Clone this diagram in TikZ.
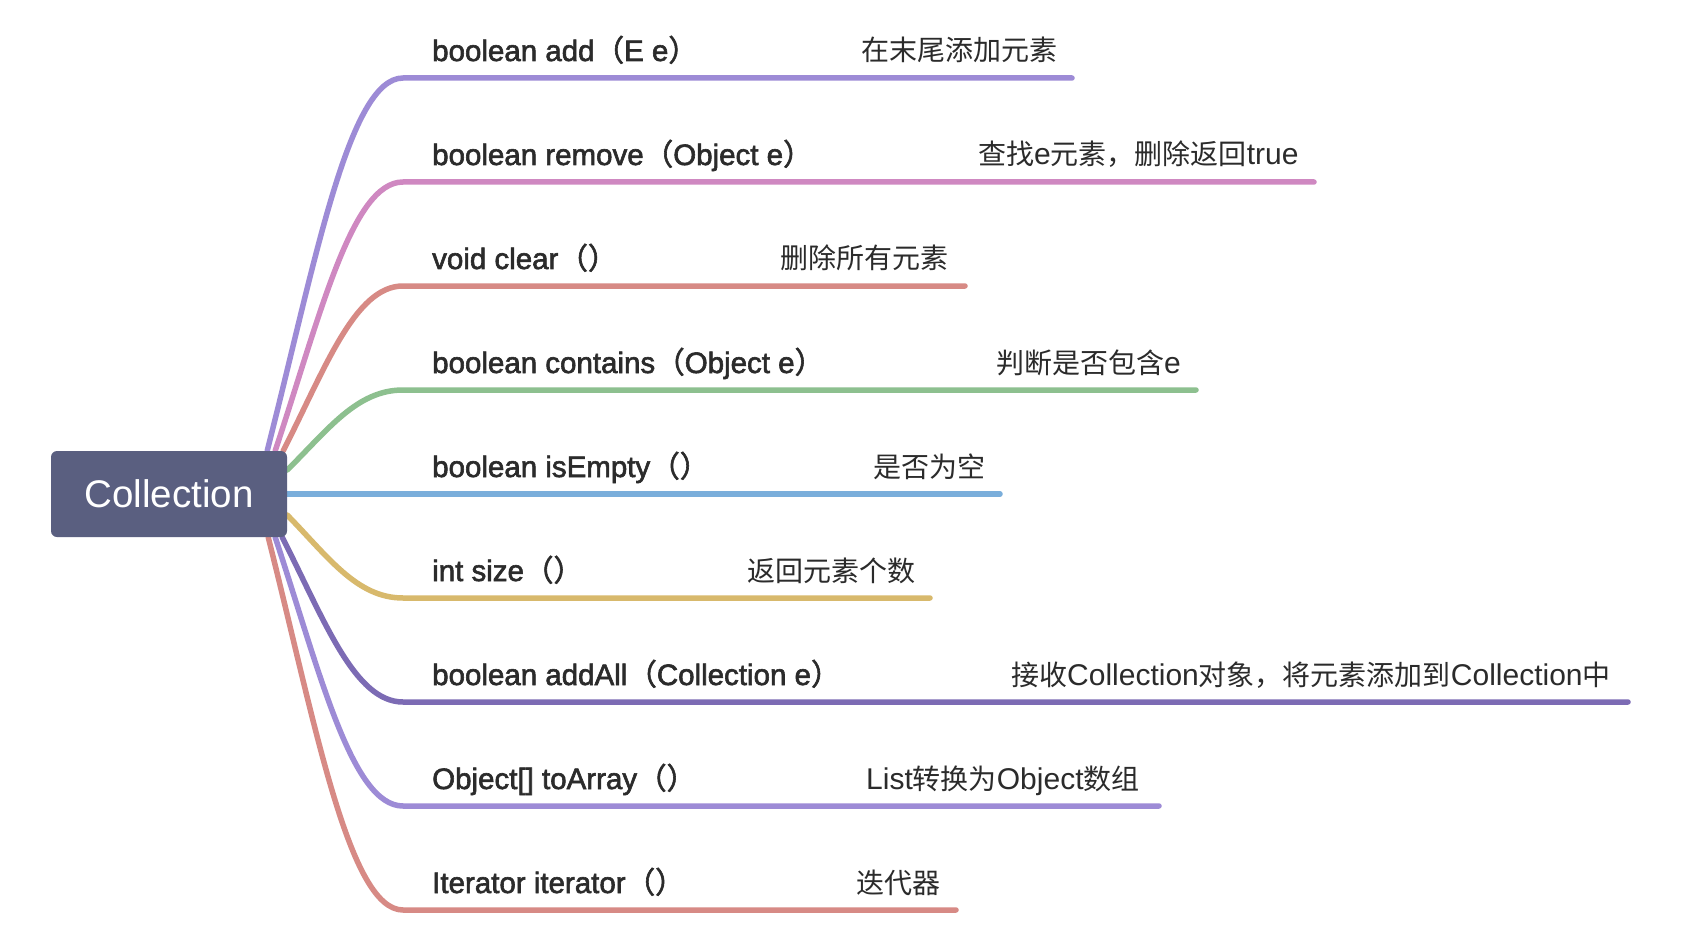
\documentclass[tikz,border=0pt]{standalone}
\usepackage{fontspec}
\setmainfont{Liberation Sans}
\newfontfamily\cjk{Noto Sans CJK SC}
\newfontfamily\methf{Liberation Sans}[FakeBold=2]
\newfontfamily\cjkm{Noto Sans CJK SC}[FakeBold=2]
\newcommand\lp{{\cjkm （}}
\newcommand\rp{{\cjkm ）}}
\newcommand\lat[1]{{\rmfamily\fontsize{30}{32}\selectfont #1}}
\definecolor{cpurple}{HTML}{9D8BD6}
\definecolor{cpink}{HTML}{CF88C1}
\definecolor{csalmon}{HTML}{D78A85}
\definecolor{cgreen}{HTML}{8DC08F}
\definecolor{cblue}{HTML}{7AAEDB}
\definecolor{cyellow}{HTML}{D8B96C}
\definecolor{cdpurple}{HTML}{7C6BB4}
\definecolor{croot}{HTML}{5A5F80}
\definecolor{ctext}{HTML}{2B2B2B}
\pgfdeclarelayer{bg}
\pgfsetlayers{bg,main}
\tikzset{
  rootbox/.style={fill=croot, rounded corners=6pt, minimum width=236pt, minimum height=86pt,
    inner sep=0pt, text=white, font=\fontsize{38.5}{42}\selectfont},
  meth/.style={anchor=base west, inner sep=0pt, text=ctext, font=\methf\fontsize{29.5}{32}\selectfont},
  desc/.style={anchor=base west, inner sep=0pt, text=ctext, font=\cjk\fontsize{28}{32}\selectfont},
  branch/.style={line width=5.5pt, line cap=round}
}
\begin{document}
\begin{tikzpicture}[x=1pt,y=-1pt]
\useasboundingbox (0,0) rectangle (1700,944);

\node[rootbox] (root) at (169,494) {Collection};

% branch start / end coordinates
\coordinate (e1) at (403,78);  \coordinate (f1) at (1072,78);
\coordinate (e2) at (403,182); \coordinate (f2) at (1314,182);
\coordinate (e3) at (403,286); \coordinate (f3) at (965,286);
\coordinate (e4) at (403,390); \coordinate (f4) at (1196,390);
\coordinate (e5) at (403,494); \coordinate (f5) at (1000,494);
\coordinate (e6) at (403,598); \coordinate (f6) at (930,598);
\coordinate (e7) at (403,702); \coordinate (f7) at (1628,702);
\coordinate (e8) at (403,806); \coordinate (f8) at (1159,806);
\coordinate (e9) at (403,910); \coordinate (f9) at (956,910);

\begin{pgfonlayer}{bg}
\fill[white] (0,0) rectangle (1700,944);
\draw[branch, cpurple] ([xshift=-20pt]root.north east) .. controls +(47.6,-186.5) and +(-54.4,0) .. (e1) -- (f1);
\draw[branch, cpink] ([xshift=-12pt]root.north east) .. controls +(44.8,-134.5) and +(-51.2,0) .. (e2) -- (f2);
\draw[branch, csalmon] ([xshift=-4pt]root.north east) .. controls +(42,-82.5) and +(-48,0) .. (e3) -- (f3);
\draw[branch, cgreen] ([yshift=24pt]root.east) .. controls +(40.6,-40) and +(-46.4,0) .. (e4) -- (f4);
\draw[branch, cblue] (root.east) -- (e5) -- (f5);
\draw[branch, cyellow] ([yshift=-21pt]root.east) .. controls +(40.6,41.5) and +(-46.4,0) .. (e6) -- (f6);
\draw[branch, cdpurple] ([xshift=-5pt]root.south east) .. controls +(42.4,83.5) and +(-48.4,0) .. (e7) -- (f7);
\draw[branch, cpurple] ([xshift=-12pt]root.south east) .. controls +(44.8,135.5) and +(-51.2,0) .. (e8) -- (f8);
\draw[branch, csalmon] ([xshift=-19pt]root.south east) .. controls +(47.3,187.5) and +(-54,0) .. (e9) -- (f9);
\end{pgfonlayer}

% method labels
\node[meth] (m1) at (432,61)  {boolean add\lp E e\rp};
\node[meth] (m2) at (432,165) {boolean remove\lp Object e\rp};
\node[meth] (m3) at (432,269) {void clear\lp\rp};
\node[meth] (m4) at (432,373) {boolean contains\lp Object e\rp};
\node[meth] (m5) at (432,477) {boolean isEmpty\lp\rp};
\node[meth] (m6) at (432,581) {int size\lp\rp};
\node[meth] (m7) at (432,685) {boolean addAll\lp Collection e\rp};
\node[meth] (m8) at (432,789) {Object[] toArray\lp\rp};
\node[meth] (m9) at (432,893) {Iterator iterator\lp\rp};

% descriptions
\node[desc] (d1) at (861,61)  {在末尾添加元素};
\node[desc] (d2) at (978,165) {查找\lat{e}元素，删除返回\lat{true}};
\node[desc] (d3) at (780,269) {删除所有元素};
\node[desc] (d4) at (996,373) {判断是否包含\lat{e}};
\node[desc] (d5) at (873,477) {是否为空};
\node[desc] (d6) at (747,581) {返回元素个数};
\node[desc] (d7) at (1011,685) {接收\lat{Collection}对象，将元素添加到\lat{Collection}中};
\node[desc] (d8) at (866,789) {\lat{List}转换为\lat{Object}数组};
\node[desc] (d9) at (856,893) {迭代器};
\end{tikzpicture}
\end{document}
